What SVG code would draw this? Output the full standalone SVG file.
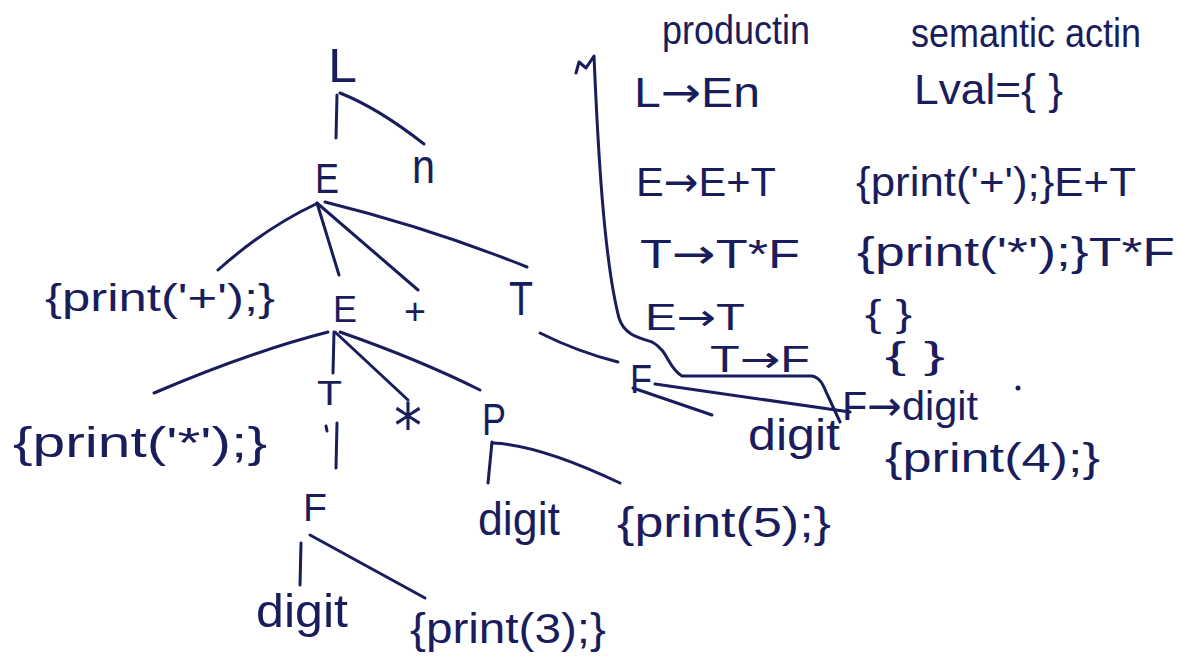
<svg xmlns="http://www.w3.org/2000/svg" width="1182" height="659" viewBox="0 0 1182 659">
<style>
text{font-family:"Liberation Sans","DejaVu Sans",sans-serif;fill:#1a1d5c;}
.c{fill:none;stroke:#1a1d5c;stroke-width:3;stroke-linecap:round;stroke-linejoin:round;}
.s{font-size:41px;}
.a{font-family:"DejaVu Sans",sans-serif;}
</style>
<rect width="1182" height="659" fill="#ffffff"/>
<g id="connectors" class="c">
<path d="M337,95 L336,138"/>
<path d="M340,93 Q378,108 424,144"/>
<path d="M316,204 Q265,228 218,270"/>
<path d="M317,203 L339,275"/>
<path d="M317,203 L418,290"/>
<path d="M325,202 Q430,228 527,267"/>
<path d="M328,332 Q250,352 154,393"/>
<path d="M334,332 L333,373"/>
<path d="M335,332 L408,400"/>
<path d="M340,332 Q420,360 480,390"/>
<path d="M337,423 L336,468"/>
<path d="M326,426 L327,431"/>
<path d="M492,442 L488,483"/>
<path d="M493,443 Q540,445 620,483"/>
<path d="M301,543 L300,585"/>
<path d="M310,535 L425,598"/>
<path d="M540,333 Q578,352 618,362"/>
<path d="M633,388 L712,415"/>
<path d="M655,384 L850,412"/>
<path d="M576,73 L579,62 L586,68 L594,56 C598,150 604,260 619,318 C624,335 640,338 652,342 C668,350 668,368 682,376 L812,376 C822,378 824,388 828,396 L840,422"/>
</g>
<g id="n-L"><text x="328" y="82" font-size="48" textLength="29" lengthAdjust="spacingAndGlyphs">L</text></g>
<g id="n-n"><text x="412" y="183" font-size="48" textLength="23" lengthAdjust="spacingAndGlyphs">n</text></g>
<g id="n-E1"><text x="315" y="193" font-size="42" textLength="24" lengthAdjust="spacingAndGlyphs">E</text></g>
<g id="n-printplus"><text x="45" y="311" font-size="38" textLength="230" lengthAdjust="spacingAndGlyphs">{print('+');}</text></g>
<g id="n-E2"><text x="333" y="322" font-size="37" textLength="24" lengthAdjust="spacingAndGlyphs">E</text></g>
<g id="n-plus"><text x="404" y="324" font-size="36" textLength="22" lengthAdjust="spacingAndGlyphs">+</text></g>
<g id="n-T1"><text x="509" y="315" font-size="48" textLength="24" lengthAdjust="spacingAndGlyphs">T</text></g>
<g id="n-printstar"><text x="13" y="457" font-size="42" textLength="254" lengthAdjust="spacingAndGlyphs">{print('*');}</text></g>
<g id="n-T2"><text x="317" y="405" font-size="35" textLength="25" lengthAdjust="spacingAndGlyphs">T</text></g>
<g id="n-star"><text x="394" y="448" font-size="62" textLength="28" lengthAdjust="spacingAndGlyphs" style="font-family:'DejaVu Sans',sans-serif">*</text></g>
<g id="n-P"><text x="482" y="435" font-size="45" textLength="24" lengthAdjust="spacingAndGlyphs">P</text></g>
<g id="n-F1"><text x="303" y="521" font-size="38" textLength="24" lengthAdjust="spacingAndGlyphs">F</text></g>
<g id="n-digit1"><text x="478" y="535" font-size="46" textLength="82" lengthAdjust="spacingAndGlyphs">digit</text></g>
<g id="n-print5"><text x="617" y="537" font-size="42" textLength="214" lengthAdjust="spacingAndGlyphs">{print(5);}</text></g>
<g id="n-digit2"><text x="256" y="627" font-size="46" textLength="92" lengthAdjust="spacingAndGlyphs">digit</text></g>
<g id="n-print3"><text x="410" y="643" font-size="42" textLength="196" lengthAdjust="spacingAndGlyphs">{print(3);}</text></g>
<g id="n-F2"><text x="630" y="393" font-size="40" textLength="22" lengthAdjust="spacingAndGlyphs">F</text></g>
<g id="n-digit3"><text x="748" y="450" font-size="44" textLength="92" lengthAdjust="spacingAndGlyphs">digit</text></g>
<g id="table">
<text x="662" y="44" font-size="40" textLength="148" lengthAdjust="spacingAndGlyphs">productin</text>
<text x="911" y="47" font-size="40" textLength="230" lengthAdjust="spacingAndGlyphs">semantic actin</text>
<text x="634" y="107" font-size="42" textLength="126" lengthAdjust="spacingAndGlyphs">L<tspan class="a">→</tspan>En</text>
<text x="914" y="104" font-size="42" textLength="149" lengthAdjust="spacingAndGlyphs">Lval={ }</text>
<text x="636" y="196" class="s" textLength="140" lengthAdjust="spacingAndGlyphs">E<tspan class="a">→</tspan>E+T</text>
<text x="856" y="196" class="s" textLength="280" lengthAdjust="spacingAndGlyphs">{print('+');}E+T</text>
<text x="640" y="268" class="s" textLength="160" lengthAdjust="spacingAndGlyphs">T<tspan class="a">→</tspan>T*F</text>
<text x="857" y="266" class="s" textLength="318" lengthAdjust="spacingAndGlyphs">{print('*');}T*F</text>
<text x="645" y="330" font-size="36" textLength="100" lengthAdjust="spacingAndGlyphs">E<tspan class="a">→</tspan>T</text>
<text x="865" y="326" font-size="36" textLength="47" lengthAdjust="spacingAndGlyphs">{ }</text>
<text x="710" y="372" font-size="36" textLength="100" lengthAdjust="spacingAndGlyphs">T<tspan class="a">→</tspan>F</text>
<text x="885" y="368" font-size="36" textLength="60" lengthAdjust="spacingAndGlyphs">{ }</text>
<text x="842" y="420" class="s" textLength="136" lengthAdjust="spacingAndGlyphs">F<tspan class="a">→</tspan>digit</text>
<text x="885" y="472" class="s" textLength="215" lengthAdjust="spacingAndGlyphs">{print(4);}</text>
<circle cx="1018" cy="388" r="2.5" fill="#1a1d5c"/>
</g>
</svg>
